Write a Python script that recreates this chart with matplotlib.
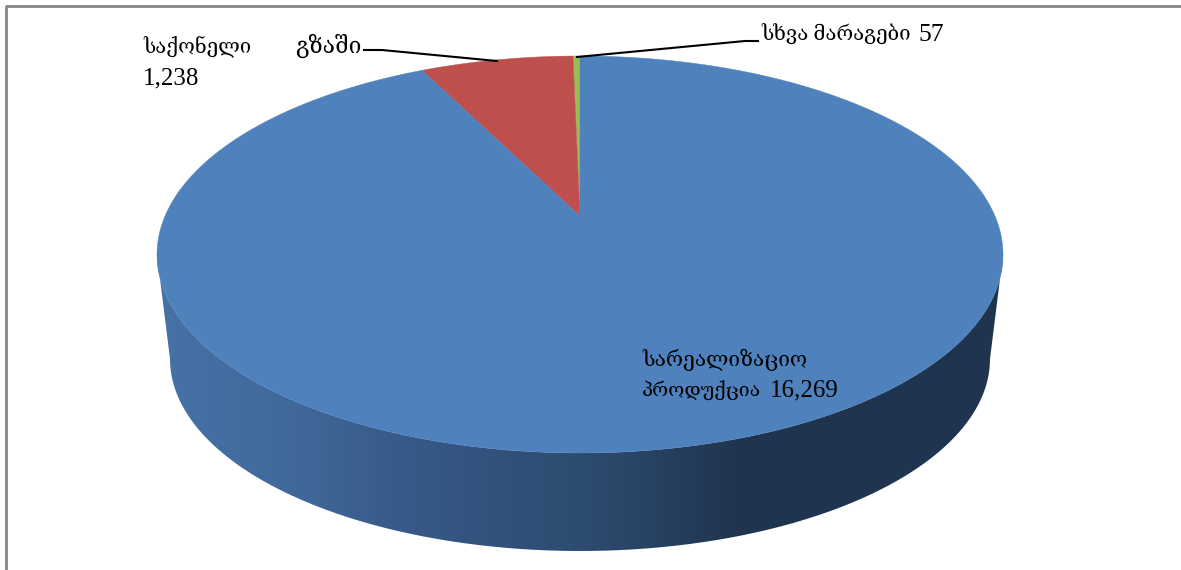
import numpy as np
import matplotlib
matplotlib.use('Agg')
import matplotlib.pyplot as plt
from matplotlib.colors import LinearSegmentedColormap
from matplotlib.patches import PathPatch
from matplotlib.path import Path

plt.rcParams['font.family'] = ['Liberation Serif', 'DejaVu Serif']

# slices, counter-clockwise from 12 o'clock
names = ['სხვა მარაგები', 'საქონელი გზაში', 'სარეალიზაციო პროდუქცია']
values = [57, 1238, 16269]
colors = ['#9BBB59', '#BE4F4C', '#4F81BD']

# geometry of the tilted disc, in pixels
apex_x, apex_y = 580, 216
top_y, bottom_y = 56, 453
half_w = 423
low_half_w, low_cy, low_half_h = 410, 359, 192

k = ((bottom_y - apex_y) - (apex_y - top_y)) / (bottom_y - top_y)
b = (apex_y - top_y) * (1 + k)
a = half_w * np.sqrt(1 - k * k)


def project(u, v):
    # perspective map of the unit circle, centre goes to the apex
    return apex_x + a * u / (1 + k * v), apex_y - b * v / (1 + k * v)


fig = plt.figure(figsize=(11.81, 5.70), dpi=100)
ax = fig.add_axes([0, 0, 1, 1])
ax.set_xlim(0, 1181)
ax.set_ylim(570, 0)
ax.axis('off')

# side wall with the left to right shading
cy_up = (top_y + bottom_y) / 2
half_h = (bottom_y - top_y) / 2
front = np.linspace(0, np.pi, 361)
wall_x = np.concatenate([apex_x - half_w * np.cos(front),
                         apex_x + low_half_w * np.cos(front)])
wall_y = np.concatenate([cy_up + half_h * np.sin(front),
                         low_cy + low_half_h * np.sin(front)])
wall = Path(np.column_stack([wall_x, wall_y]), closed=False)
wall_cmap = LinearSegmentedColormap.from_list('wall', [
    (0.0, '#4672A6'), (0.145, '#416A9C'), (0.287, '#385A88'),
    (0.52, '#2C4A6E'), (0.69, '#20344E'), (1.0, '#1F344E')])
im = ax.imshow(np.linspace(0, 1, 400)[None, :], cmap=wall_cmap, aspect='auto',
               extent=[157, 1003, 570, 0], zorder=1)
patch = PathPatch(wall, transform=ax.transData, fc='none', ec='none')
ax.add_patch(patch)
im.set_clip_path(patch)
ax.set_xlim(0, 1181)
ax.set_ylim(570, 0)

# top face from the values
start = 0.0
total = sum(values)
for val, col in zip(values, colors):
    sweep = 360.0 * val / total
    ang = np.radians(np.linspace(start, start + sweep, max(int(sweep * 2), 3)))
    px, py = project(-np.sin(ang), np.cos(ang))
    ax.fill(np.r_[apex_x, px], np.r_[apex_y, py], color=col, lw=0.3, zorder=2)
    start += sweep

# leader lines
ax.plot([364, 382, 497], [50, 50, 61], color='black', lw=1.5, zorder=3)
ax.plot([577, 745, 758], [57, 41, 41], color='black', lw=1.5, zorder=3)

# chart frame, only left and top show in the crop
ax.plot([6, 6], [570, 6], color='#868686', lw=2, zorder=3, solid_capstyle='butt')
ax.plot([5, 1181], [6, 6], color='#868686', lw=2, zorder=3, solid_capstyle='butt')

# the Georgian runs are sized one by one, the fallback font is wider than the original
ax.text(143, 53, 'საქონელი', fontsize=14.6, zorder=4)
ax.text(143, 84, '1,238', fontsize=18, zorder=4)
ax.text(295, 53, 'გზაში', fontsize=16.5, zorder=4)
ax.text(761, 41, 'სხვა მარაგები', fontsize=14.7, zorder=4)
ax.text(919, 41, '57', fontsize=18.5, zorder=4)
ax.text(642, 366, 'სარეალიზაციო', fontsize=15, zorder=4)
ax.text(642, 396, 'პროდუქცია', fontsize=14, zorder=4)
ax.text(770, 396, '16,269', fontsize=18, zorder=4)

fig.savefig('out.png', dpi=100)
